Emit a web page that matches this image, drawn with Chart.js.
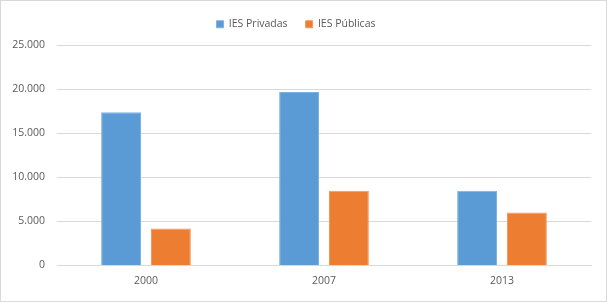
<!DOCTYPE html>
<html lang="pt">
<head>
    <meta charset="UTF-8">
    <title>IES Privadas x IES Públicas</title>
    <style>
        html, body { margin: 0; padding: 0; background: #fff; }
        #wrap { width: 605px; height: 300px; border: 1px solid #d9d9d9; position: relative; }
    </style>
</head>
<body>
    <div id="wrap">
        <canvas id="myChart"></canvas>
    </div>

    <script src="https://cdn.jsdelivr.net/npm/chart.js"></script>
    <script>
        const anos = ['2000', '2007', '2013'];
        const privadas = [17400, 19700, 8500];
        const publicas = [4200, 8500, 6000];
        const yTicks = [0, 5000, 10000, 15000, 20000, 25000];

        const fmt = v => v.toLocaleString('de-DE');

        Chart.defaults.font.family = "'Open Sans', sans-serif";
        Chart.defaults.font.size = 10.5;
        Chart.defaults.color = '#595959';

        // a bit more room under the legend
        const legendGap = {
            id: 'legendGap',
            beforeInit(chart) {
                const fit = chart.legend.fit;
                chart.legend.fit = function () {
                    fit.bind(chart.legend)();
                    this.height += 6;
                };
            }
        };

        new Chart(document.getElementById('myChart'), {
            type: 'bar',
            data: {
                labels: anos,
                datasets: [{
                    label: 'IES Privadas',
                    data: privadas,
                    backgroundColor: '#5b9bd5',
                    borderColor: '#7fb1e0',
                    borderWidth: 1,
                    categoryPercentage: 0.56,
                    barPercentage: 0.8
                }, {
                    label: 'IES Públicas',
                    data: publicas,
                    backgroundColor: '#ed7d31',
                    borderColor: '#f29a5c',
                    borderWidth: 1,
                    categoryPercentage: 0.56,
                    barPercentage: 0.8
                }]
            },
            options: {
                responsive: true,
                maintainAspectRatio: false,
                animation: false,
                layout: { padding: { left: 0, right: 15, top: 0, bottom: 13 } },
                plugins: {
                    legend: {
                        position: 'top',
                        labels: { boxWidth: 7, boxHeight: 7, padding: 18 }
                    },
                    tooltip: { enabled: false }
                },
                scales: {
                    x: {
                        grid: { display: false },
                        border: { display: true, color: '#d9d9d9' },
                        ticks: { padding: 1 }
                    },
                    y: {
                        min: 0,
                        max: 25000,
                        afterBuildTicks: axis => { axis.ticks = yTicks.map(v => ({ value: v })); },
                        afterFit: axis => { axis.width = 56; },
                        grid: { color: '#d9d9d9', drawTicks: false },
                        border: { display: false },
                        ticks: { padding: 12, callback: v => fmt(v) }
                    }
                }
            },
            plugins: [legendGap]
        });
    </script>
</body>
</html>
